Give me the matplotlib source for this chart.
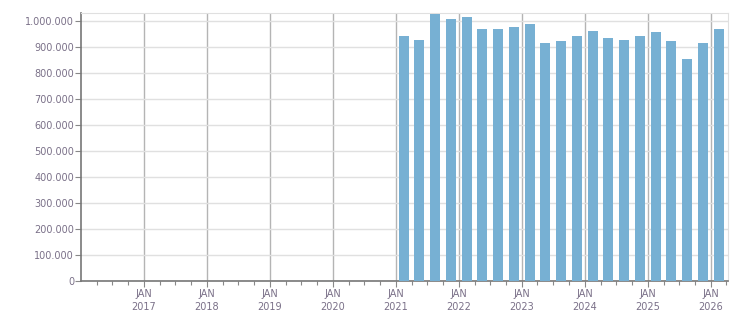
import matplotlib
matplotlib.use("Agg")
import matplotlib.pyplot as plt
import matplotlib.dates as mdates
from matplotlib.ticker import FuncFormatter, FixedLocator
import datetime as dt

quarters = ["2021Q1", "2021Q2", "2021Q3", "2021Q4",
            "2022Q1", "2022Q2", "2022Q3", "2022Q4",
            "2023Q1", "2023Q2", "2023Q3", "2023Q4",
            "2024Q1", "2024Q2", "2024Q3", "2024Q4",
            "2025Q1", "2025Q2", "2025Q3", "2025Q4",
            "2026Q1"]
values = [943000, 928000, 1028000, 1009000,
          1017000, 970000, 970000, 978000,
          990000, 917000, 924000, 943000,
          963000, 936000, 928000, 943000,
          959000, 924000, 855000, 917000,
          970000]
year_labels = ["2017", "2018", "2019", "2020", "2021", "2022", "2023", "2024", "2025", "2026"]

def q_center(q):
    y = int(q[:4]); n = int(q[-1])
    start = dt.date(y, 3 * (n - 1) + 1, 1)
    return mdates.date2num(start) + 45

xs = [q_center(q) for q in quarters]

fig = plt.figure(figsize=(7.51, 3.13), dpi=100)
ax = fig.add_axes([81 / 751, 32 / 313, (728 - 81) / 751, (281 - 13) / 313])

bar_color = "#77b0d3"
ax.bar(xs, values, width=58, color=bar_color, zorder=3)

x0 = mdates.date2num(dt.date(2016, 1, 1))
x1 = mdates.date2num(dt.date(2026, 4, 10))
ax.set_xlim(x0, x1)
ax.set_ylim(0, 1031000)

major = [mdates.date2num(dt.date(int(y), 1, 1)) for y in year_labels]
minor = []
for y in range(2016, 2027):
    for m in (1, 4, 7, 10):
        d = mdates.date2num(dt.date(y, m, 1))
        if x0 < d < x1 and d not in major:
            minor.append(d)
ax.xaxis.set_major_locator(FixedLocator(major))
ax.xaxis.set_minor_locator(FixedLocator(minor))
ax.set_xticklabels(["JAN\n" + y for y in year_labels])

ax.set_yticks(range(0, 1000001, 100000))
ax.yaxis.set_major_formatter(FuncFormatter(lambda v, p: f"{int(v):,}".replace(",", ".")))

txt = "#7a7088"
ax.tick_params(axis="both", labelsize=7, colors="#888888", labelcolor=txt)
ax.tick_params(axis="x", which="major", length=4, pad=2, width=0.8)
ax.tick_params(axis="x", which="minor", length=3, width=0.8, colors="#888888")
ax.tick_params(axis="y", length=4, pad=1, width=0.8)
for lbl in ax.get_xticklabels():
    lbl.set_linespacing(1.3)

ax.grid(axis="y", color="#e0e0e0", linewidth=1, zorder=0)
ax.grid(axis="x", which="major", color="#b4b4b4", linewidth=1, zorder=1)

for s in ("top", "right"):
    ax.spines[s].set_color("#e0e0e0")
for s in ("left", "bottom"):
    ax.spines[s].set_color("#777777")
    ax.spines[s].set_linewidth(1.2)

fig.savefig("out.png", dpi=100)
